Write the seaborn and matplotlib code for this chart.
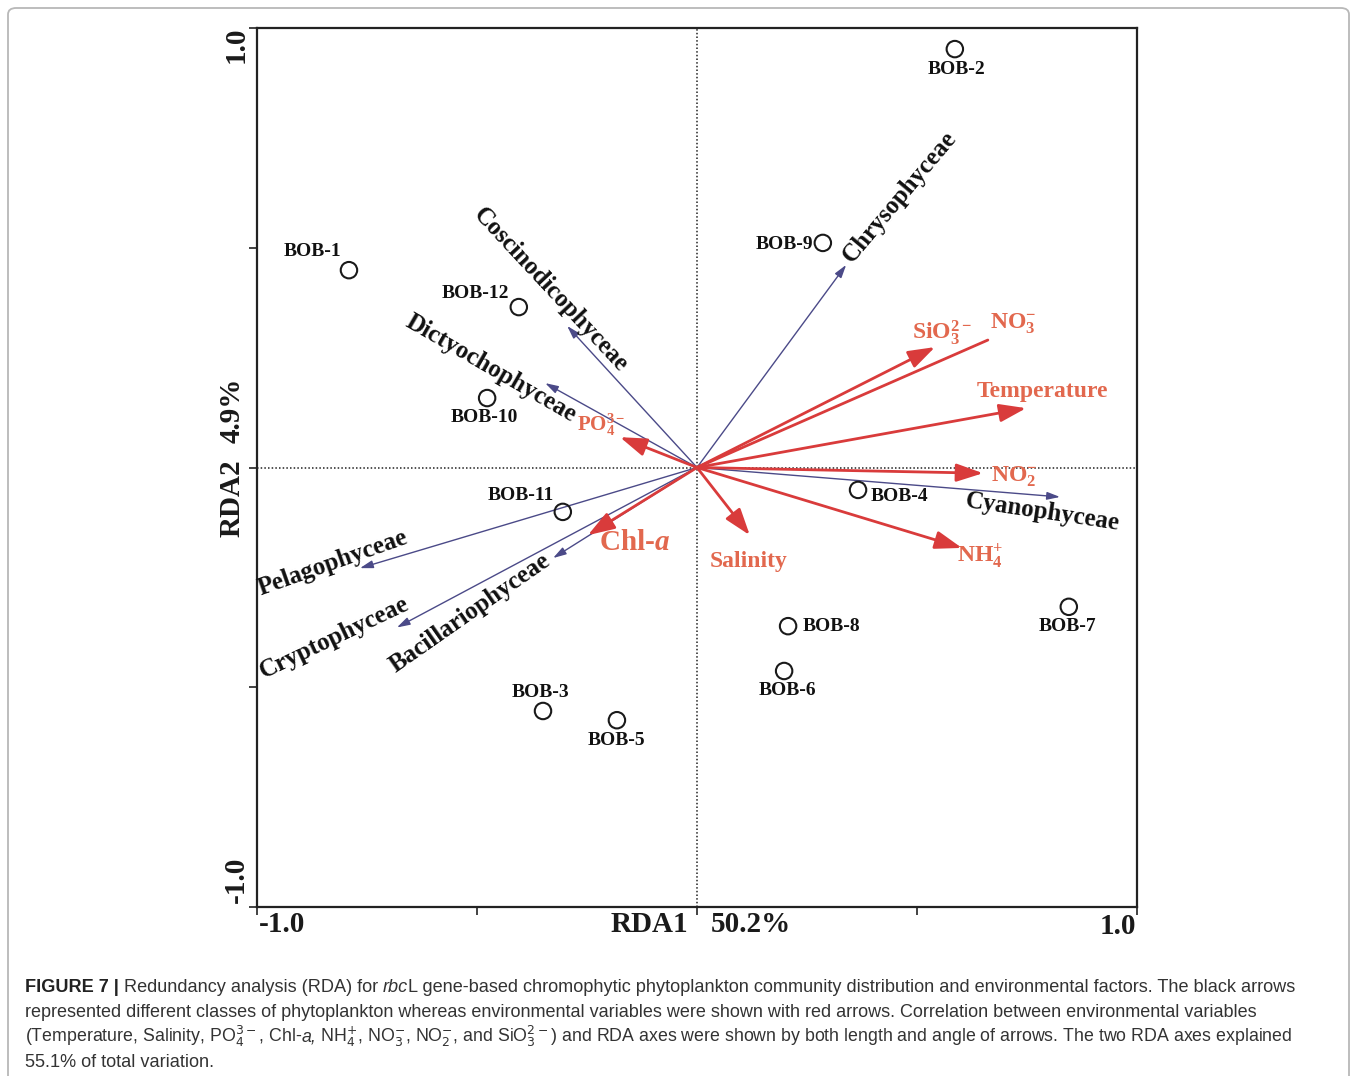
import numpy as np
import pandas as pd
import matplotlib
matplotlib.use("Agg")
import matplotlib.pyplot as plt
import seaborn as sns
from matplotlib.patches import FancyBboxPatch

# ---------------- data ----------------
sites = ["BOB-1", "BOB-2", "BOB-3", "BOB-4", "BOB-5", "BOB-6",
         "BOB-7", "BOB-8", "BOB-9", "BOB-10", "BOB-11", "BOB-12"]
site_rda1 = [-0.791, 0.586, -0.350, 0.366, -0.182, 0.198,
             0.845, 0.207, 0.286, -0.477, -0.305, -0.405]
site_rda2 = [0.449, 0.952, -0.554, -0.051, -0.575, -0.463,
             -0.317, -0.361, 0.511, 0.158, -0.101, 0.365]

species = ["Chrysophyceae", "Coscinodicophyceae", "Dictyochophyceae",
           "Cyanophyceae", "Pelagophyceae", "Cryptophyceae", "Bacillariophyceae"]
species_rda1 = [0.339, -0.295, -0.345, 0.825, -0.766, -0.682, -0.327]
species_rda2 = [0.461, 0.322, 0.192, -0.067, -0.229, -0.364, -0.206]

env = ["SiO3", "NO3", "Temperature", "NO2", "NH4", "Salinity", "PO4", "Chl-a"]
env_rda1 = [0.541, 0.661, 0.748, 0.650, 0.602, 0.120, -0.175, -0.248]
env_rda2 = [0.274, 0.290, 0.135, -0.013, -0.183, -0.154, 0.069, -0.154]
env_labels = [r"SiO$_{\mathbf{3}}^{\mathbf{2-}}$", r"NO$_{\mathbf{3}}^{\mathbf{-}}$",
              "Temperature", r"NO$_{\mathbf{2}}^{\mathbf{-}}$",
              r"NH$_{\mathbf{4}}^{\mathbf{+}}$", "Salinity",
              r"PO$_{\mathbf{4}}^{\mathbf{3-}}$", r"Chl-$\mathit{a}$"]

# ---------------- layout (label placement, styles) ----------------
site_label_offset_px = [(-37, 19), (2, -20), (-3, 18), (41, -7), (0, -20), (3, -20),
                        (-1, -20), (43, 0), (-38, -2), (-3, -19), (-42, 16), (-43, 14)]
species_label_pos = [(0.461, 0.615), (-0.332, 0.404), (-0.468, 0.226), (0.786, -0.101),
                     (-0.827, -0.217), (-0.825, -0.388), (-0.516, -0.331)]
species_label_rot = [50, -47, -30, -8.5, 19.5, 25.5, 35]
env_label_pos = [(0.557, 0.306), (0.718, 0.326), (0.784, 0.174), (0.720, -0.020),
                 (0.643, -0.204), (0.118, -0.213), (-0.218, 0.097), (-0.143, -0.171)]
env_label_size = [17, 17, 17, 17, 17, 17, 15, 21]
env_has_head = [True, False, True, True, True, True, True, True]

W, H = 1357, 1076
SP_COLOR = "#4b4a88"
ENV_COLOR = "#d93b3b"
ENV_TXT = "#e2684e"

sns.set_theme(style="white")
plt.rcParams["font.family"] = ["Liberation Serif", "DejaVu Serif"]
plt.rcParams["mathtext.fontset"] = "custom"
plt.rcParams["mathtext.rm"] = "Liberation Serif:bold"
plt.rcParams["mathtext.bf"] = "Liberation Serif:bold"
plt.rcParams["mathtext.it"] = "Liberation Serif:bold:italic"

fig = plt.figure(figsize=(W / 100, H / 100), dpi=100)
fig.patch.set_facecolor("white")


def fp(x, y):
    return x / W, 1 - y / H


ax = fig.add_axes([257 / W, 1 - 907 / H, 880 / W, 879 / H])

df_sites = pd.DataFrame({"site": sites, "RDA1": site_rda1, "RDA2": site_rda2})
sns.scatterplot(data=df_sites, x="RDA1", y="RDA2", ax=ax, s=140, marker="o",
                fc="none", ec="#1a1a1a", linewidth=1.5, zorder=6, legend=False)

ax.set_xlim(-1, 1)
ax.set_ylim(-1, 1)
ax.set_xlabel("")
ax.set_ylabel("")
ax.set_xticks([-1, -0.5, 0, 0.5, 1])
ax.set_yticks([-1, -0.5, 0, 0.5, 1])
ax.set_xticklabels([])
ax.set_yticklabels([])
ax.tick_params(bottom=True, left=True, direction="out", length=6, width=1.2, color="#222222")
for sp in ax.spines.values():
    sp.set_color("#222222")
    sp.set_linewidth(1.6)

ax.axhline(0, color="#222222", lw=1.1, ls=(0, (1, 1.4)), zorder=1)
ax.axvline(0, color="#222222", lw=1.1, ls=(0, (1, 1.4)), zorder=1)

# species arrows
for x, y in zip(species_rda1, species_rda2):
    ax.annotate("", xy=(x, y), xytext=(0, 0),
                arrowprops=dict(arrowstyle="-|>,head_length=0.6,head_width=0.18",
                                color=SP_COLOR, lw=1.0, shrinkA=0, shrinkB=0,
                                mutation_scale=13), zorder=3)
for name, (lx, ly), rot in zip(species, species_label_pos, species_label_rot):
    ax.text(lx, ly, name, ha="center", va="center", rotation=rot, fontsize=18,
            fontweight="bold", color="#111111", zorder=7)

# environmental arrows
for x, y, head in zip(env_rda1, env_rda2, env_has_head):
    style = "-|>,head_length=0.65,head_width=0.22" if head else "-"
    ax.annotate("", xy=(x, y), xytext=(0, 0),
                arrowprops=dict(arrowstyle=style, color=ENV_COLOR, lw=2.0,
                                shrinkA=0, shrinkB=0, mutation_scale=25), zorder=4)
for lab, (lx, ly), fs in zip(env_labels, env_label_pos, env_label_size):
    ax.text(lx, ly, lab, ha="center", va="center", fontsize=fs, fontweight="bold",
            color=ENV_TXT, zorder=7)

# site labels
for name, x, y, (dx, dy) in zip(sites, site_rda1, site_rda2, site_label_offset_px):
    ax.annotate(name, xy=(x, y), xytext=(dx, dy), textcoords="offset pixels",
                ha="center", va="center", fontsize=14, fontweight="bold",
                color="#111111", zorder=7)

# axis tick labels / titles
tk = dict(fontsize=21, fontweight="bold", color="#1a1a1a", ha="center", va="center")
fig.text(*fp(282, 924), "-1.0", **tk)
fig.text(*fp(1118, 927), "1.0", **tk)
fig.text(*fp(649, 924), "RDA1", **tk)
fig.text(*fp(751, 924), "50.2%", **tk)
fig.text(*fp(236, 45), "1.0", rotation=90, **tk)
fig.text(*fp(236, 880), "-1.0", rotation=90, **tk)
fig.text(*fp(232, 498), "RDA2", rotation=90, **tk)
fig.text(*fp(232, 410), "4.9%", rotation=90, **tk)

# border
fig.patches.append(FancyBboxPatch((8 / W, -0.02), 1341 / W, 1 - 8 / H + 0.02,
                                  boxstyle="round,pad=0,rounding_size=0.006",
                                  transform=fig.transFigure, fc="none",
                                  ec="#b8b8b8", lw=1.3, zorder=0))

# caption
renderer = fig.canvas.get_renderer()
CAP_FAM = ["Liberation Sans", "DejaVu Sans"]
caption_lines = [
    [("FIGURE 7 | ", "bold"), ("Redundancy analysis (RDA) for ", "normal"), ("rbc", "italic"),
     ("L gene-based chromophytic phytoplankton community distribution and environmental factors. The black arrows", "normal")],
    [("represented different classes of phytoplankton whereas environmental variables were shown with red arrows. Correlation between environmental variables", "normal")],
    [(r"(Temperature, Salinity, PO$_{\mathrm{4}}^{\mathrm{3-}}$, Chl-", "normal"), ("a,", "italic"),
     (r" NH$_{\mathrm{4}}^{+}$, NO$_{\mathrm{3}}^{-}$, NO$_{\mathrm{2}}^{-}$, and SiO$_{\mathrm{3}}^{\mathrm{2-}}$) and RDA axes were shown by both length and angle of arrows. The two RDA axes explained", "normal")],
    [("55.1% of total variation.", "normal")],
]
line_target = [1273, 1222, 1265, None]


def props(style, fs):
    d = dict(fontsize=fs, family=CAP_FAM, color="#333333", math_fontfamily="dejavusans")
    if style == "bold":
        d["fontweight"] = "bold"
        d["color"] = "#222222"
    elif style == "italic":
        d["fontstyle"] = "italic"
    return d


def width_of(s, style, fs):
    t1 = fig.text(0, 0, s + "|", **props(style, fs))
    t2 = fig.text(0, 0, "|", **props(style, fs))
    w = t1.get_window_extent(renderer).width - t2.get_window_extent(renderer).width
    t1.remove()
    t2.remove()
    return w


fs0 = 13.0
w0 = sum(width_of(s, st, fs0) for s, st in caption_lines[0])
fs = fs0 * 1273 / w0
for i, line in enumerate(caption_lines):
    lfs = fs
    if line_target[i] is not None:
        wl = sum(width_of(s, st, fs) for s, st in line)
        lfs = fs * min(1.0, line_target[i] / wl)
    x = 25
    ybase = 992 + 25 * i
    for s, st in line:
        fig.text(x / W, 1 - ybase / H, s, ha="left", va="baseline", **props(st, lfs))
        x += width_of(s, st, lfs)

fig.savefig("out.png", dpi=100, facecolor="white")
